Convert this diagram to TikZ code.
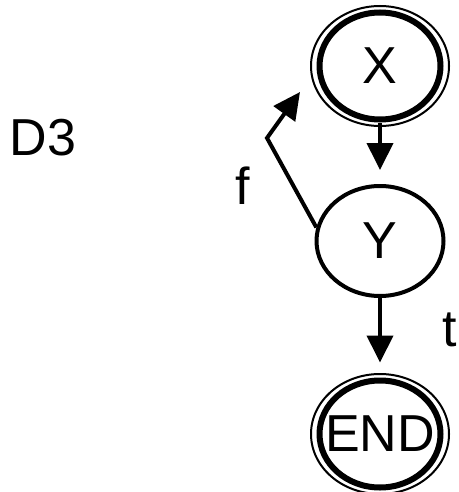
\documentclass[tikz,border=0pt]{standalone}
\usepackage{fontspec}
\setmainfont{Liberation Sans}
\usetikzlibrary{shapes.geometric,arrows.meta}
\newcommand\rx{69}
\newcommand\ry{60}
\newcommand\bigtext{\fontsize{52}{60}\selectfont}

\begin{document}
\begin{tikzpicture}[x=1pt,y=-1pt,
	state/.style={ellipse,draw,inner sep=0pt,font=\bigtext},
	final/.style={state,line width=6pt,minimum width=121pt,minimum height=107pt},
	arr/.style={line width=4pt,-{Triangle[width=26pt,length=27pt]}}]
\useasboundingbox (0,0) rectangle (458,492);
\node [final] (X) at (380,66) {X};
\node [state,line width=4pt,minimum width=127pt,minimum height=110pt] (Y) at (380,241) {Y};
\node [final] (END) at (380,434) {\makebox[0pt]{END}};
\foreach \n in {X,END} {
	\draw [line width=2pt](\n.center) ellipse (\rx pt and \ry pt);
}
\node [font=\bigtext] (D3) at (43,138) {D3};
\node [font=\bigtext] (f) at (243,186) {f};
\node [font=\bigtext] (t) at (450,330) {t};
\coordinate (bend) at (267,138);
\coordinate (back) at (300,92);
\draw [arr,shorten >=14pt] (X) -- (Y);
\draw [arr,shorten >=15pt] (Y) -- (END);
\draw [arr] (Y.168) -- (bend) -- (back);
\end{tikzpicture}
\end{document}
